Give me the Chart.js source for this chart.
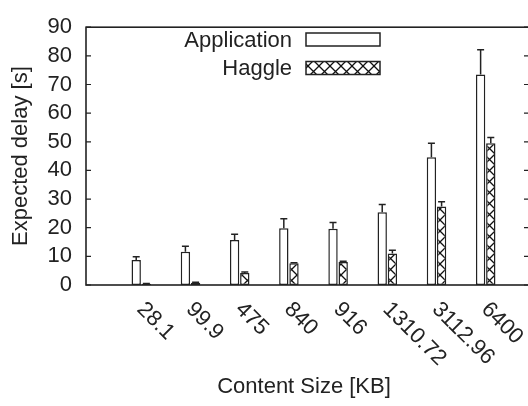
<!DOCTYPE html>
<html>
<head>
<meta charset="utf-8">
<script src="https://cdn.jsdelivr.net/npm/chart.js@4/dist/chart.umd.min.js"></script>
<style>
  html, body { margin: 0; padding: 0; background: #fff; overflow: hidden; }
  #wrap { width: 534px; height: 406px; }
</style>
</head>
<body>
<div id="wrap"><canvas id="c" width="534" height="406"></canvas></div>
<script>
// ---- data ----
const categories = ["28.1", "99.9", "475", "840", "916", "1310.72", "3112.96", "6400"];
const applicationDelay = [8.7, 11.6, 15.7, 19.8, 19.6, 25.4, 44.6, 73.5];
const applicationErr   = [1.2, 1.9, 2.0, 3.3, 2.2, 2.7, 4.9, 8.6];
const haggleDelay      = [0.4, 0.8, 4.2, 7.6, 8.0, 11.0, 27.4, 49.5];
const haggleErr        = [0.1, 0.2, 0.3, 0.2, 0.3, 1.1, 1.7, 2.0];
const yTicks = [0, 10, 20, 30, 40, 50, 60, 70, 80, 90];
const seriesNames = ["Application", "Haggle"];
const xTitle = "Content Size [KB]";
const yTitle = "Expected delay [s]";

const FONT = "'Liberation Sans', Arial, Helvetica, sans-serif";
const FS = 22;
const INK = "#222";

// hatch pattern
function makePattern() {
  const s = 11;
  const pc = document.createElement('canvas');
  pc.width = s; pc.height = s;
  const g = pc.getContext('2d');
  g.fillStyle = '#fff';
  g.fillRect(0, 0, s, s);
  g.strokeStyle = '#111';
  g.lineWidth = 1.3;
  g.beginPath();
  g.moveTo(0, 0); g.lineTo(s, s);
  g.moveTo(s, 0); g.lineTo(0, s);
  g.stroke();
  return g.createPattern(pc, 'repeat');
}
const hatch = makePattern();

const errors = [applicationErr, haggleErr];

const framePlugin = {
  id: 'frame',
  afterDatasetsDraw(chart) {
    const ctx = chart.ctx;
    const a = chart.chartArea;
    const ys = chart.scales.y;
    const xs = chart.scales.x;
    ctx.save();
    // error bars
    ctx.strokeStyle = INK;
    ctx.lineWidth = 1.5;
    chart.data.datasets.forEach((ds, di) => {
      const meta = chart.getDatasetMeta(di);
      meta.data.forEach((bar, i) => {
        const v = ds.data[i].y;
        const top = ys.getPixelForValue(v + errors[di][i]);
        const y0 = ys.getPixelForValue(v);
        ctx.beginPath();
        ctx.moveTo(bar.x, y0);
        ctx.lineTo(bar.x, top);
        ctx.moveTo(bar.x - 3.5, top);
        ctx.lineTo(bar.x + 3.5, top);
        ctx.stroke();
      });
    });
    // frame
    ctx.strokeStyle = INK;
    ctx.lineWidth = 1.6;
    ctx.strokeRect(a.left, a.top, a.right - a.left, a.bottom - a.top);
    // inward ticks
    ctx.lineWidth = 1.2;
    yTicks.forEach(t => {
      const y = ys.getPixelForValue(t);
      ctx.beginPath();
      ctx.moveTo(a.left, y); ctx.lineTo(a.left + 5, y);
      ctx.moveTo(a.right, y); ctx.lineTo(a.right - 5, y);
      ctx.stroke();
    });
    // rotated x labels
    ctx.fillStyle = INK;
    ctx.font = FS + "px " + FONT;
    ctx.textAlign = 'left';
    ctx.textBaseline = 'middle';
    categories.forEach((lab, i) => {
      const x = xs.getPixelForValue(i);
      ctx.save();
      ctx.translate(x - 1, a.bottom + 21);
      ctx.rotate(Math.PI / 4);
      ctx.fillText(lab, 0, 0);
      ctx.restore();
    });
    // x title
    ctx.textAlign = 'center';
    ctx.textBaseline = 'middle';
    ctx.fillText(xTitle, 304, 387);
    // legend
    ctx.textAlign = 'right';
    const legendY = [39.5, 68];
    chart.data.datasets.forEach((ds, di) => {
      ctx.fillStyle = INK;
      ctx.fillText(seriesNames[di], 292, legendY[di] + 1);
      ctx.fillStyle = ds.backgroundColor;
      ctx.fillRect(306, legendY[di] - 6.5, 74, 13);
      ctx.strokeStyle = INK;
      ctx.lineWidth = 1.5;
      ctx.strokeRect(306, legendY[di] - 6.5, 74, 13);
    });
    ctx.restore();
  }
};

const toPoints = arr => arr.map((v, i) => ({ x: i, y: v }));

new Chart(document.getElementById('c'), {
  type: 'bar',
  data: {
    datasets: [
      {
        label: seriesNames[0],
        data: toPoints(applicationDelay),
        backgroundColor: '#fff',
        borderColor: INK,
        borderWidth: 1.5,
        borderSkipped: false,
        categoryPercentage: 0.47,
        barPercentage: 0.92
      },
      {
        label: seriesNames[1],
        data: toPoints(haggleDelay),
        backgroundColor: hatch,
        borderColor: INK,
        borderWidth: 1.5,
        borderSkipped: false,
        categoryPercentage: 0.47,
        barPercentage: 0.92
      }
    ]
  },
  options: {
    responsive: false,
    animation: false,
    events: [],
    layout: { padding: { left: 0, top: 20, right: 5, bottom: 0 } },
    plugins: { legend: { display: false }, tooltip: { enabled: false } },
    scales: {
      x: {
        type: 'linear',
        offset: false,
        min: -1.124,
        max: 7.88,
        grid: { display: false, drawTicks: false },
        border: { display: false },
        ticks: { display: false },
        afterFit(s) { s.height = 121; }
      },
      y: {
        min: 0,
        max: 90,
        afterBuildTicks(s) { s.ticks = yTicks.map(v => ({ value: v })); },
        grid: { display: false, drawTicks: false },
        border: { display: false },
        ticks: { color: INK, font: { family: FONT, size: FS }, padding: 14, autoSkip: false },
        title: { display: true, text: yTitle, color: INK, font: { family: FONT, size: FS }, padding: { top: 8, bottom: 0 } },
        afterFit(s) { s.width = 86; }
      }
    }
  },
  plugins: [framePlugin]
});
</script>
</body>
</html>
